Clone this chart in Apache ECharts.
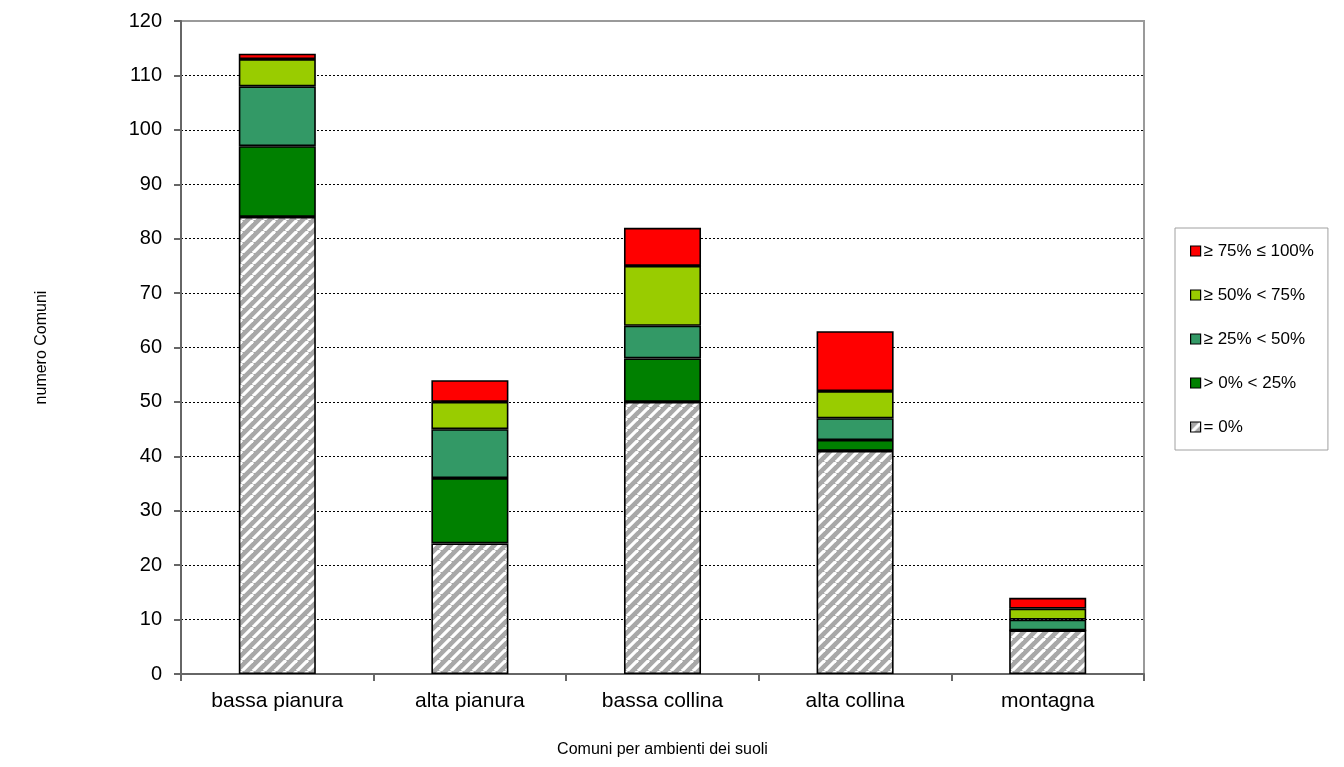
<!DOCTYPE html>
<html>
<head>
<meta charset="utf-8">
<script src="https://cdn.jsdelivr.net/npm/echarts@6/dist/echarts.min.js"></script>
<style>
  html, body { margin: 0; padding: 0; background: #fff; }
  #chart { width: 1344px; height: 767px; }
</style>
</head>
<body>
<div id="chart"></div>
<script>
// Municipalities per soil environment, split by share class
const categories = ['bassa pianura', 'alta pianura', 'bassa collina', 'alta collina', 'montagna'];
const zero      = [84, 24, 50, 41, 8];   // = 0%
const upTo25    = [13, 12, 8, 2, 0];     // > 0% < 25%
const upTo50    = [11, 9, 6, 4, 2];      // ≥ 25% < 50%
const upTo75    = [5, 5, 11, 5, 2];      // ≥ 50% < 75%
const upTo100   = [1, 4, 7, 11, 2];      // ≥ 75% ≤ 100%
const yTicks    = { min: 0, max: 120, step: 10 };

// Diagonal grey/white hatch tile for the "= 0%" class
function hatchTile() {
  const s = 11;
  const c = document.createElement('canvas');
  c.width = s; c.height = s;
  const g = c.getContext('2d');
  g.fillStyle = '#a8a8a8';
  g.fillRect(0, 0, s, s);
  g.strokeStyle = '#ffffff';
  g.lineWidth = 3.2;
  for (let k = -1; k <= 1; k++) {
    g.beginPath();
    g.moveTo(k * s, s);
    g.lineTo(k * s + s, 0);
    g.stroke();
  }
  return c;
}
const hatch = { image: hatchTile(), repeat: 'repeat' };

const font = 'Liberation Sans, Arial, sans-serif';

function barSeries(name, data, color) {
  return {
    name: name,
    type: 'bar',
    stack: 'total',
    barWidth: '40%',
    data: data,
    itemStyle: { color: color, borderColor: '#000', borderWidth: 1.6 },
    emphasis: { disabled: true }
  };
}

const chart = echarts.init(document.getElementById('chart'), null, { renderer: 'canvas' });
chart.setOption({
  animation: false,
  backgroundColor: '#fff',
  textStyle: { fontFamily: font, color: '#000' },
  grid: {
    left: 181, right: 200, top: 21, bottom: 93,
    show: true, borderColor: '#9a9a9a', borderWidth: 2, backgroundColor: 'transparent'
  },
  legend: {
    orient: 'vertical',
    left: 1175, top: 228,
    padding: [13, 14, 13, 15],
    itemGap: 24,
    itemWidth: 10, itemHeight: 10,
    icon: 'rect',
    borderColor: '#a0a0a0', borderWidth: 1,
    backgroundColor: '#fff',
    selectedMode: false,
    data: ['≥ 75% ≤ 100%', '≥ 50% < 75%', '≥ 25% < 50%', '> 0% < 25%', '= 0%'],
    textStyle: { fontFamily: font, fontSize: 17, color: '#000', lineHeight: 20, padding: [0, 0, 0, -2] },
    itemStyle: { borderColor: '#000', borderWidth: 1.2 }
  },
  xAxis: {
    type: 'category',
    data: categories,
    name: 'Comuni per ambienti dei suoli',
    nameLocation: 'middle',
    nameGap: 68,
    nameTextStyle: { fontFamily: font, fontSize: 16, color: '#000' },
    axisLine: { lineStyle: { color: '#666', width: 2 } },
    axisTick: { show: true, length: 7, lineStyle: { color: '#666', width: 2 } },
    axisLabel: { fontFamily: font, fontSize: 21, color: '#000', margin: 17 }
  },
  yAxis: {
    type: 'value',
    min: yTicks.min, max: yTicks.max, interval: yTicks.step,
    name: 'numero Comuni',
    nameLocation: 'middle',
    nameGap: 131,
    nameTextStyle: { fontFamily: font, fontSize: 16, color: '#000' },
    axisLine: { show: true, lineStyle: { color: '#666', width: 2 } },
    axisTick: { show: true, length: 7, lineStyle: { color: '#666', width: 2 } },
    axisLabel: { fontFamily: font, fontSize: 20, color: '#000', margin: 19 },
    splitLine: { show: true, showMaxLine: false, lineStyle: { color: '#000', type: [2, 2], width: 1 } }
  },
  series: [
    barSeries('= 0%', zero, hatch),
    barSeries('> 0% < 25%', upTo25, '#008000'),
    barSeries('≥ 25% < 50%', upTo50, '#339966'),
    barSeries('≥ 50% < 75%', upTo75, '#99cc00'),
    barSeries('≥ 75% ≤ 100%', upTo100, '#ff0000')
  ]
});
</script>
</body>
</html>
